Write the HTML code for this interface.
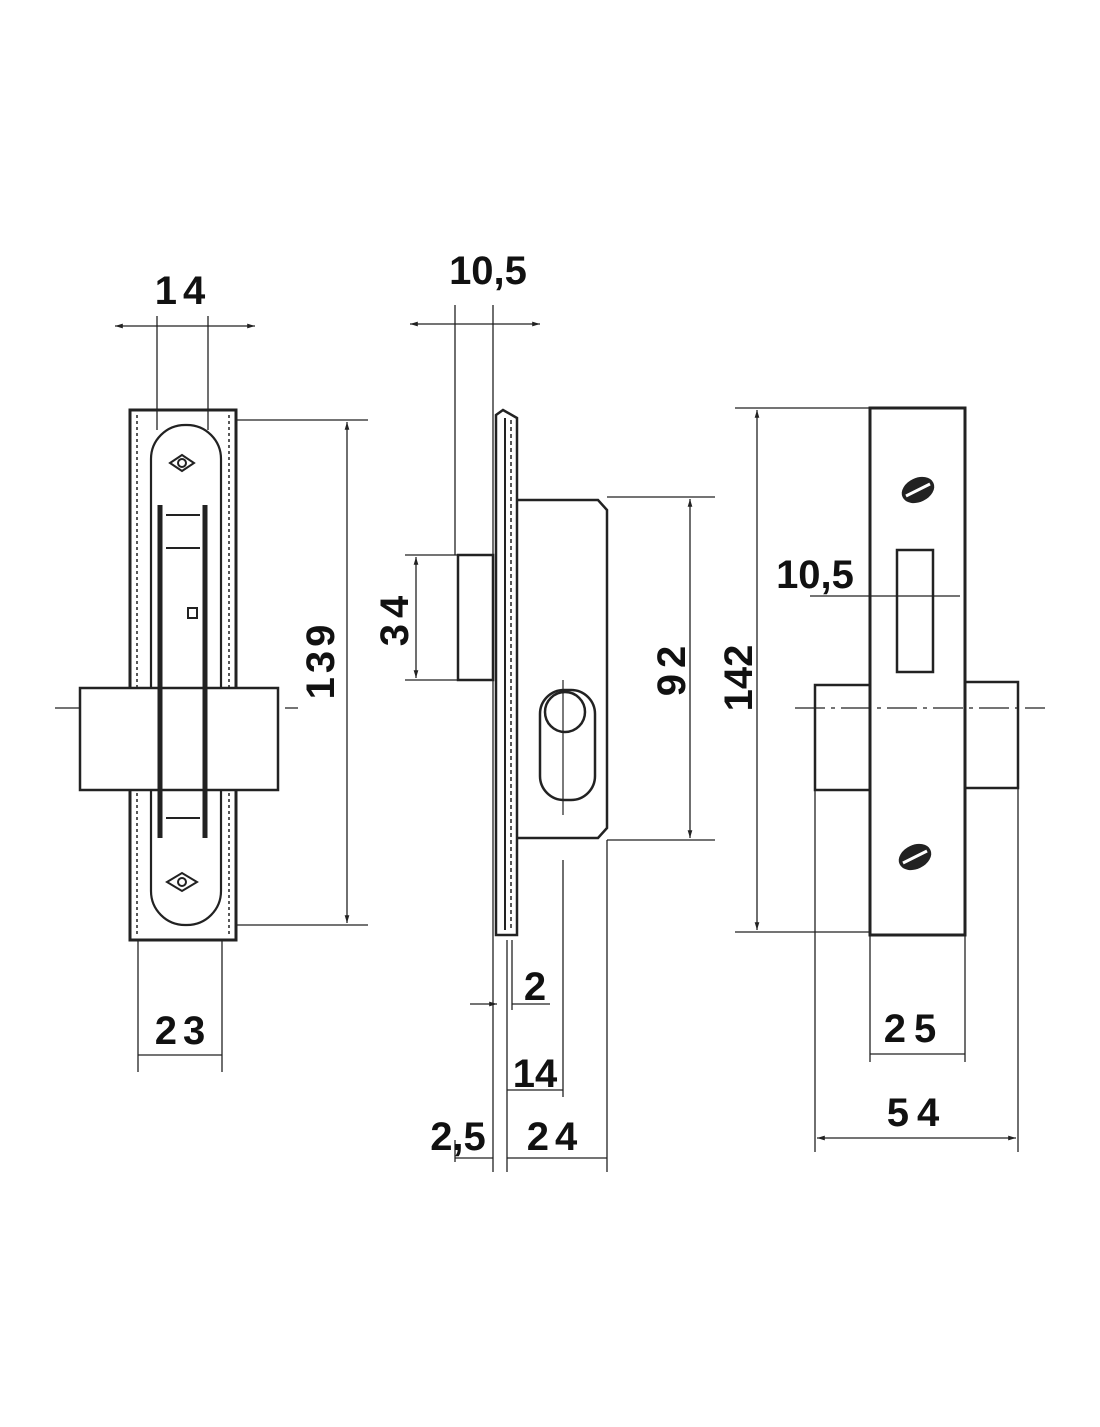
<!DOCTYPE html>
<html><head><style>
html,body{margin:0;padding:0;background:#fff}
svg text{font-family:"Liberation Sans",Arial,sans-serif;font-weight:bold;fill:#111}
</style></head><body>
<svg width="1100" height="1422" viewBox="0 0 1100 1422" xmlns="http://www.w3.org/2000/svg">
<defs>
<marker id="a" viewBox="0 0 10 10" refX="10" refY="5" markerWidth="10" markerHeight="6" orient="auto-start-reverse"><path d="M0,2 L10,5 L0,8 z" fill="#222"/></marker>
</defs>
<g stroke="#222" fill="none">
<!-- LEFT VIEW -->
<g stroke-width="1.3">
<line x1="115" y1="326" x2="255" y2="326" marker-start="url(#a)" marker-end="url(#a)"/>
<line x1="157" y1="316" x2="157" y2="430"/>
<line x1="208" y1="316" x2="208" y2="430"/>
<line x1="236" y1="420" x2="368" y2="420"/>
<line x1="236" y1="925" x2="368" y2="925"/>
<line x1="347" y1="422" x2="347" y2="923" marker-start="url(#a)" marker-end="url(#a)"/>
<line x1="55" y1="708" x2="298" y2="708" stroke-dasharray="30,6,4,6"/>
<line x1="138" y1="940" x2="138" y2="1072"/>
<line x1="222" y1="940" x2="222" y2="1072"/>
<line x1="138" y1="1055" x2="222" y2="1055"/>
</g>
<rect x="130" y="410" width="106" height="530" stroke-width="3"/>
<rect x="151" y="425" width="70" height="500" rx="34" stroke-width="2.2"/>
<line x1="137" y1="415" x2="137" y2="935" stroke-width="1.5" stroke-dasharray="3,3"/>
<line x1="229" y1="415" x2="229" y2="935" stroke-width="1.5" stroke-dasharray="3,3"/>
<line x1="160" y1="505" x2="160" y2="838" stroke-width="5"/>
<line x1="205" y1="505" x2="205" y2="838" stroke-width="5"/>
<line x1="166" y1="515" x2="200" y2="515" stroke-width="2"/>
<line x1="166" y1="548" x2="200" y2="548" stroke-width="2"/>
<line x1="166" y1="818" x2="200" y2="818" stroke-width="2"/>
<rect x="188" y="608" width="9" height="10" stroke-width="2"/>
<path d="M170,463 L182,455 L194,463 L182,471 z" stroke-width="2"/>
<circle cx="182" cy="463" r="4" stroke-width="2"/>
<path d="M167,882 L182,873 L197,882 L182,891 z" stroke-width="2"/>
<circle cx="182" cy="882" r="4" stroke-width="2"/>
<rect x="80" y="688" width="198" height="102" fill="#fff" stroke-width="2.5"/>
<line x1="160" y1="688" x2="160" y2="790" stroke-width="5"/>
<line x1="205" y1="688" x2="205" y2="790" stroke-width="5"/>

<!-- MIDDLE VIEW -->
<g stroke-width="1.3">
<line x1="410" y1="324" x2="540" y2="324" marker-start="url(#a)" marker-end="url(#a)"/>
<line x1="455" y1="305" x2="455" y2="555"/>
<line x1="493" y1="305" x2="493" y2="1172"/>
<line x1="405" y1="555" x2="458" y2="555"/>
<line x1="405" y1="680" x2="458" y2="680"/>
<line x1="416" y1="557" x2="416" y2="678" marker-start="url(#a)" marker-end="url(#a)"/>
<line x1="607" y1="497" x2="715" y2="497"/>
<line x1="607" y1="840" x2="715" y2="840"/>
<line x1="690" y1="499" x2="690" y2="838" marker-start="url(#a)" marker-end="url(#a)"/>
<line x1="507" y1="940" x2="507" y2="1172"/>
<line x1="512" y1="940" x2="512" y2="1010"/>
<line x1="470" y1="1004" x2="497" y2="1004" marker-end="url(#a)"/>
<line x1="512" y1="1004" x2="550" y2="1004"/>
<line x1="563" y1="860" x2="563" y2="1097"/>
<line x1="507" y1="1090" x2="563" y2="1090"/>
<line x1="607" y1="840" x2="607" y2="1172"/>
<line x1="455" y1="1158" x2="493" y2="1158"/>
<line x1="507" y1="1158" x2="607" y2="1158"/>
<line x1="455" y1="1140" x2="455" y2="1162"/>
</g>
<path d="M496,415 L503,410 L517,418 L517,935 L496,935 z" stroke-width="2.5"/>
<line x1="505" y1="418" x2="505" y2="930" stroke-width="2"/>
<line x1="511" y1="420" x2="511" y2="930" stroke-width="1.5" stroke-dasharray="4,3"/>
<path d="M517,500 L598,500 L607,510 L607,828 L598,838 L517,838" stroke-width="2.5"/>
<rect x="458" y="555" width="35" height="125" stroke-width="2.5"/>
<rect x="540" y="690" width="55" height="110" rx="24" stroke-width="2.5"/>
<circle cx="565" cy="712" r="20" stroke-width="2.5"/>
<line x1="563" y1="680" x2="563" y2="815" stroke-width="1.2"/>

<!-- RIGHT VIEW -->
<g stroke-width="1.3">
<line x1="735" y1="408" x2="965" y2="408"/>
<line x1="735" y1="932" x2="870" y2="932"/>
<line x1="757" y1="410" x2="757" y2="930" marker-start="url(#a)" marker-end="url(#a)"/>
<line x1="810" y1="596" x2="960" y2="596"/>
<line x1="795" y1="708" x2="1045" y2="708" stroke-dasharray="30,6,4,6"/>
<line x1="870" y1="935" x2="870" y2="1062"/>
<line x1="965" y1="935" x2="965" y2="1062"/>
<line x1="870" y1="1054" x2="965" y2="1054"/>
<line x1="815" y1="790" x2="815" y2="1152"/>
<line x1="1018" y1="788" x2="1018" y2="1152"/>
<line x1="817" y1="1138" x2="1016" y2="1138" marker-start="url(#a)" marker-end="url(#a)"/>
</g>
<rect x="870" y="408" width="95" height="527" stroke-width="3"/>
<rect x="897" y="550" width="36" height="122" stroke-width="2.5"/>
<ellipse cx="918" cy="490" rx="16" ry="11" fill="#222" stroke-width="2" transform="rotate(-25 918 490)"/>
<line x1="906" y1="496" x2="930" y2="484" stroke="#fff" stroke-width="3"/>
<ellipse cx="915" cy="857" rx="16" ry="11" fill="#222" stroke-width="2" transform="rotate(-25 915 857)"/>
<line x1="903" y1="863" x2="927" y2="851" stroke="#fff" stroke-width="3"/>
<rect x="815" y="685" width="55" height="105" stroke-width="2.5"/>
<rect x="965" y="682" width="53" height="106" stroke-width="2.5"/>
</g>

<g font-size="40">
<text x="183" y="304" text-anchor="middle" letter-spacing="6">14</text>
<text x="183" y="1044" text-anchor="middle" letter-spacing="6">23</text>
<text transform="translate(334,660) rotate(-90)" text-anchor="middle" letter-spacing="4">139</text>
<text x="488" y="284" text-anchor="middle">10,5</text>
<text transform="translate(408,618) rotate(-90)" text-anchor="middle" letter-spacing="6">34</text>
<text transform="translate(685,668) rotate(-90)" text-anchor="middle" letter-spacing="6">92</text>
<text transform="translate(752,678) rotate(-90)" text-anchor="middle">142</text>
<text x="535" y="1000" text-anchor="middle">2</text>
<text x="535" y="1087" text-anchor="middle">14</text>
<text x="555" y="1150" text-anchor="middle" letter-spacing="6">24</text>
<text x="458" y="1150" text-anchor="middle">2,5</text>
<text x="815" y="588" text-anchor="middle">10,5</text>
<text x="914" y="1042" text-anchor="middle" letter-spacing="8">25</text>
<text x="917" y="1126" text-anchor="middle" letter-spacing="8">54</text>
</g>
</svg>
</body></html>
